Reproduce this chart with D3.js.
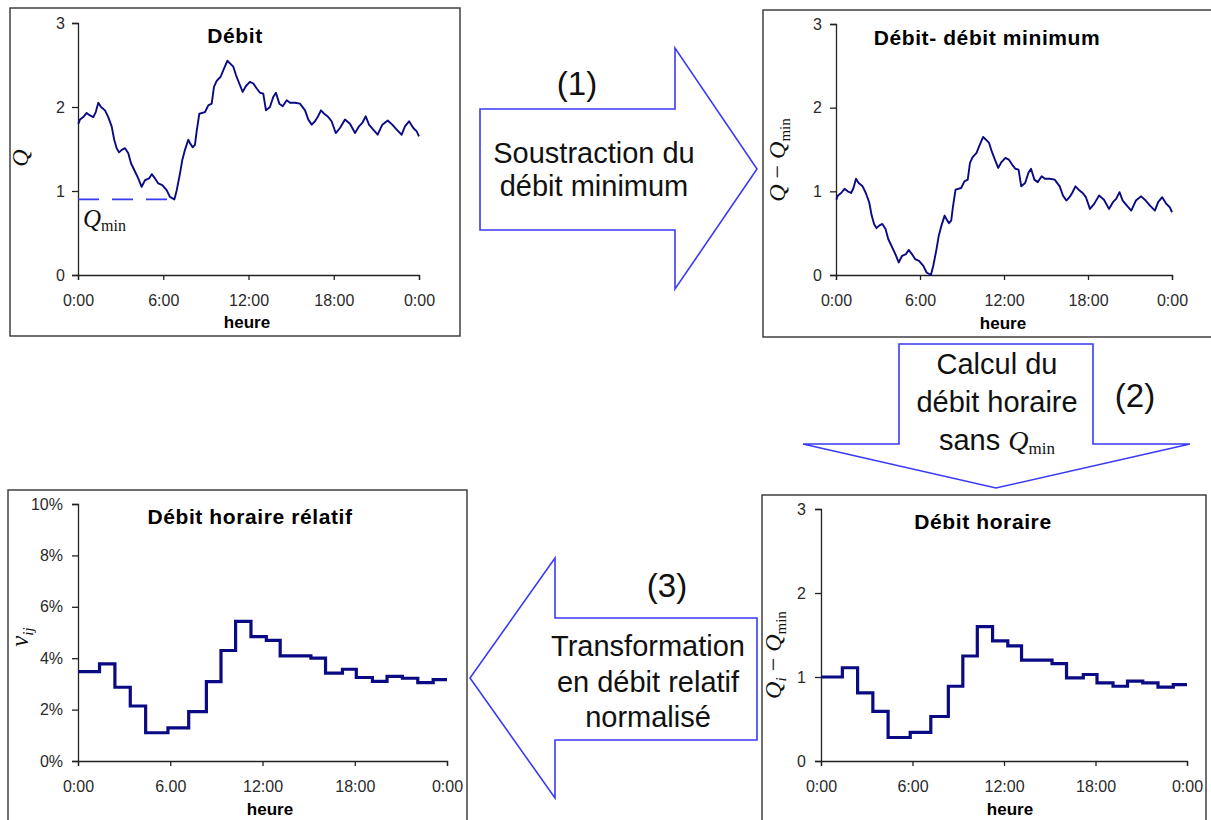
<!DOCTYPE html>
<html><head><meta charset="utf-8">
<script src="https://cdn.jsdelivr.net/npm/d3@7"></script>
<style>
html,body{margin:0;padding:0;background:#fff;}
svg{display:block;}
text{font-family:"Liberation Sans",Arial,sans-serif;}
</style></head>
<body>
<svg id="c" width="1211" height="820"></svg>
<script>
// ---- data ----
const qHours = [0.02,0.14,0.37,0.61,0.84,1.08,1.25,1.43,1.62,1.90,2.13,2.37,2.55,2.72,2.89,3.08,3.31,3.54,3.73,3.96,4.24,4.48,4.72,5.00,5.19,5.42,5.65,5.93,6.24,6.47,6.78,6.95,7.18,7.34,7.53,7.76,7.88,8.07,8.23,8.35,8.54,8.94,9.17,9.41,9.57,9.76,10.04,10.23,10.51,10.70,10.93,11.12,11.35,11.59,11.82,12.10,12.34,12.58,12.81,13.04,13.23,13.51,13.74,13.93,14.17,14.41,14.69,14.92,15.27,15.62,15.98,16.21,16.45,16.68,16.87,17.10,17.33,17.62,17.85,18.14,18.44,18.79,19.14,19.50,19.78,20.01,20.25,20.48,20.78,21.09,21.42,21.80,22.12,22.43,22.78,23.01,23.30,23.60,23.84,24.0];
const qValues = [1.80,1.85,1.88,1.93,1.90,1.88,1.94,2.05,2.00,1.96,1.88,1.77,1.61,1.51,1.46,1.49,1.51,1.45,1.33,1.25,1.15,1.05,1.13,1.15,1.20,1.15,1.09,1.07,1.01,0.93,0.90,1.01,1.21,1.37,1.49,1.61,1.57,1.52,1.55,1.71,1.92,1.94,2.02,2.04,2.24,2.31,2.36,2.44,2.55,2.52,2.48,2.38,2.28,2.18,2.25,2.30,2.28,2.22,2.17,2.16,1.96,2.00,2.12,2.17,2.04,2.01,2.08,2.05,2.05,2.04,1.96,1.85,1.79,1.83,1.88,1.96,1.92,1.88,1.83,1.69,1.75,1.85,1.80,1.69,1.77,1.81,1.89,1.79,1.73,1.67,1.79,1.84,1.79,1.73,1.67,1.77,1.83,1.75,1.71,1.65];
const qMin = 0.9;
const qMinUntil = 6.9;
const stepEdges = [0,1.4,2.4,3.4,4.4,5.85,7.2,8.35,9.3,10.25,11.25,12.25,13.15,15.15,16.1,17.2,18.1,19.15,20.1,21.1,22.1,23.1,24];
const hourlyQ = [1.00,1.11,0.81,0.59,0.28,0.34,0.53,0.89,1.25,1.60,1.43,1.37,1.20,1.16,0.99,1.03,0.93,0.89,0.95,0.93,0.88,0.91];
const relativePct = [3.48,3.78,2.87,2.14,1.10,1.29,1.92,3.09,4.30,5.43,4.84,4.69,4.09,4.00,3.42,3.57,3.25,3.10,3.29,3.22,3.05,3.17];
const hourTicks = [0,6,12,18,24];
const hourLabels = ["0:00","6:00","12:00","18:00","0:00"];
const hourLabelsRel = ["0:00","6.00","12:00","18:00","0:00"];
const qTicks = [0,1,2,3];
const pctTicks = [0,2,4,6,8,10];

const svg = d3.select("#c");
const NAVY = "#0a0a84";
const BLUE = "#3a3af5";

function panel(o){
  const g = svg.append("g");
  g.append("rect").attr("x",o.box[0]).attr("y",o.box[1]).attr("width",o.box[2]-o.box[0]).attr("height",o.box[3]-o.box[1])
    .attr("fill","#fff").attr("stroke","#333").attr("stroke-width",1.4);
  const x = d3.scaleLinear().domain([0,24]).range(o.xr);
  const y = d3.scaleLinear().domain(o.yd).range(o.yr);
  const ya = g.append("g").attr("transform",`translate(${o.xr[0]},0)`)
    .call(d3.axisLeft(y).tickValues(o.yTicks).tickSize(6).tickPadding(o.yPad).tickFormat(o.yFmt));
  const xa = g.append("g").attr("transform",`translate(0,${o.yr[0]})`)
    .call(d3.axisBottom(x).tickValues(hourTicks).tickSize(5).tickPadding(15).tickFormat((d,i)=>o.xLabels[i]));
  [ya,xa].forEach(a=>{
    a.select(".domain").attr("stroke","#222").attr("stroke-width",1.3);
    a.selectAll(".tick line").attr("stroke","#222").attr("stroke-width",1.3);
    a.selectAll(".tick text").attr("fill","#2a2a2a").style("font-size","16px").style("font-family","'Liberation Sans',Arial,sans-serif");
  });
  g.append("text").attr("x",o.title[1]).attr("y",o.title[2]).attr("text-anchor","middle")
    .style("font-size","21px").style("font-weight","bold").style("letter-spacing","0.6px").text(o.title[0]);
  g.append("text").attr("x",o.heure[0]).attr("y",o.heure[1]).attr("text-anchor","middle")
    .style("font-size","17px").style("font-weight","bold").text("heure");
  return {g,x,y};
}

function rotLabel(g, cx, cy, parts){
  const t = g.append("text").attr("transform",`translate(${cx},${cy}) rotate(-90)`).attr("text-anchor","middle")
    .style("font-family","'Liberation Serif','DejaVu Serif',serif").style("font-size","24px").attr("fill","#111");
  parts.forEach(p=>{
    const s = t.append("tspan").text(p.t);
    if(p.it) s.style("font-style","italic");
    if(p.sub){ s.attr("baseline-shift","-30%").style("font-size","15px"); }
  });
}

// ---- Panel 1: Débit ----
const p1 = panel({box:[10,8,460,336], xr:[78,419], yd:[0,3], yr:[275,23], yTicks:qTicks, yPad:7,
  yFmt:d3.format("d"), xLabels:hourLabels, title:["Débit",235,43], heure:[247,328]});
const qSeries = qHours.map((h,i)=>({h, v:qValues[i]}));
p1.g.append("path").datum([{h:0,v:qMin},{h:qMinUntil,v:qMin}])
  .attr("d", d3.line().x(d=>p1.x(d.h)).y(d=>p1.y(d.v)))
  .attr("fill","none").attr("stroke",BLUE).attr("stroke-width",1.6).attr("stroke-dasharray","21,13");
p1.g.append("path").datum(qSeries)
  .attr("d", d3.line().x(d=>p1.x(d.h)).y(d=>p1.y(d.v)))
  .attr("fill","none").attr("stroke",NAVY).attr("stroke-width",1.9).attr("stroke-linejoin","round");
rotLabel(p1.g, 28, 158, [{t:"Q",it:true}]);
{
  const t = p1.g.append("text").attr("x",83).attr("y",227).style("font-family","'Liberation Serif','DejaVu Serif',serif").attr("fill","#111");
  t.append("tspan").text("Q").style("font-style","italic").style("font-size","25px");
  t.append("tspan").text("min").style("font-size","16px").attr("baseline-shift","-25%");
}

// ---- Panel 2: Débit - débit minimum ----
const p2 = panel({box:[763,10,1216,337], xr:[836,1172], yd:[0,3], yr:[275,24], yTicks:qTicks, yPad:8,
  yFmt:d3.format("d"), xLabels:hourLabels, title:["Débit- débit minimum",987,45], heure:[1003,329]});
p2.g.append("path").datum(qSeries.map(d=>({h:d.h, v:d.v-qMin})))
  .attr("d", d3.line().x(d=>p2.x(d.h)).y(d=>p2.y(d.v)))
  .attr("fill","none").attr("stroke",NAVY).attr("stroke-width",1.9).attr("stroke-linejoin","round");
rotLabel(p2.g, 785, 160, [{t:"Q",it:true},{t:" − "},{t:"Q",it:true},{t:"min",sub:true}]);

// ---- Panel 3: Débit horaire ----
const p3 = panel({box:[762,495,1206,830], xr:[821,1187], yd:[0,3], yr:[761,509], yTicks:qTicks, yPad:9,
  yFmt:d3.format("d"), xLabels:hourLabels, title:["Débit horaire",983,529], heure:[1010,815]});
const stepLine = (sc, vals) => {
  const pts = vals.map((v,i)=>({h:stepEdges[i], v}));
  pts.push({h:stepEdges[stepEdges.length-1], v:vals[vals.length-1]});
  return d3.line().curve(d3.curveStepAfter).x(d=>sc.x(d.h)).y(d=>sc.y(d.v))(pts);
};
p3.g.append("path").attr("d", stepLine(p3, hourlyQ))
  .attr("fill","none").attr("stroke",NAVY).attr("stroke-width",3.2);
rotLabel(p3.g, 781, 655, [{t:"Q",it:true},{t:"i",sub:true,it:true},{t:" − "},{t:"Q",it:true},{t:"min",sub:true}]);

// ---- Panel 4: Débit horaire rélatif ----
const p4 = panel({box:[8,490,467,830], xr:[78,447], yd:[0,10], yr:[761,504], yTicks:pctTicks, yPad:9,
  yFmt:d=>d+"%", xLabels:hourLabelsRel, title:["Débit horaire rélatif",250,524], heure:[270,815]});
p4.g.append("path").attr("d", stepLine(p4, relativePct))
  .attr("fill","none").attr("stroke",NAVY).attr("stroke-width",3.2);
{
  const t = p4.g.append("text").attr("transform","translate(28,637) rotate(-90)").attr("text-anchor","middle")
    .style("font-family","'Liberation Serif','DejaVu Serif',serif").attr("fill","#111");
  t.append("tspan").text("ν").style("font-style","italic").style("font-size","25px");
  t.append("tspan").text("ij").style("font-style","italic").style("font-size","15px").attr("baseline-shift","-30%");
}

// ---- Arrows ----
const arrows = [
  [[480,109],[675,109],[675,48],[757,169],[675,289],[675,230],[480,230]],
  [[899,344],[1093,344],[1093,444],[1190,444],[996,488],[803,444],[899,444]],
  [[757,618],[555,618],[555,558],[470,678],[555,798],[555,740],[757,740]]
];
arrows.forEach(a=>{
  svg.append("path").attr("d", d3.line()(a)+"Z").attr("fill","#fff").attr("stroke",BLUE).attr("stroke-width",1.6);
});
function lines(cx, ys, strs, size){
  strs.forEach((s,i)=>{
    svg.append("text").attr("x",cx).attr("y",ys[i]).attr("text-anchor","middle")
      .style("font-size",size+"px").attr("fill","#111").text(s);
  });
}
lines(577,[95],["(1)"],33);
lines(594,[163,196],["Soustraction du","débit minimum"],29);
lines(1135,[407],["(2)"],33);
lines(997,[374,412],["Calcul du","débit horaire"],29);
{
  const t = svg.append("text").attr("x",997).attr("y",450).attr("text-anchor","middle").attr("fill","#111");
  t.append("tspan").text("sans ").style("font-size","29px");
  t.append("tspan").text("Q").style("font-family","'Liberation Serif',serif").style("font-style","italic").style("font-size","28px");
  t.append("tspan").text("min").style("font-family","'Liberation Serif',serif").style("font-size","17px").attr("baseline-shift","-25%");
}
lines(667,[597],["(3)"],33);
lines(648,[656,692,727],["Transformation","en débit relatif","normalisé"],29);
</script>
</body></html>
